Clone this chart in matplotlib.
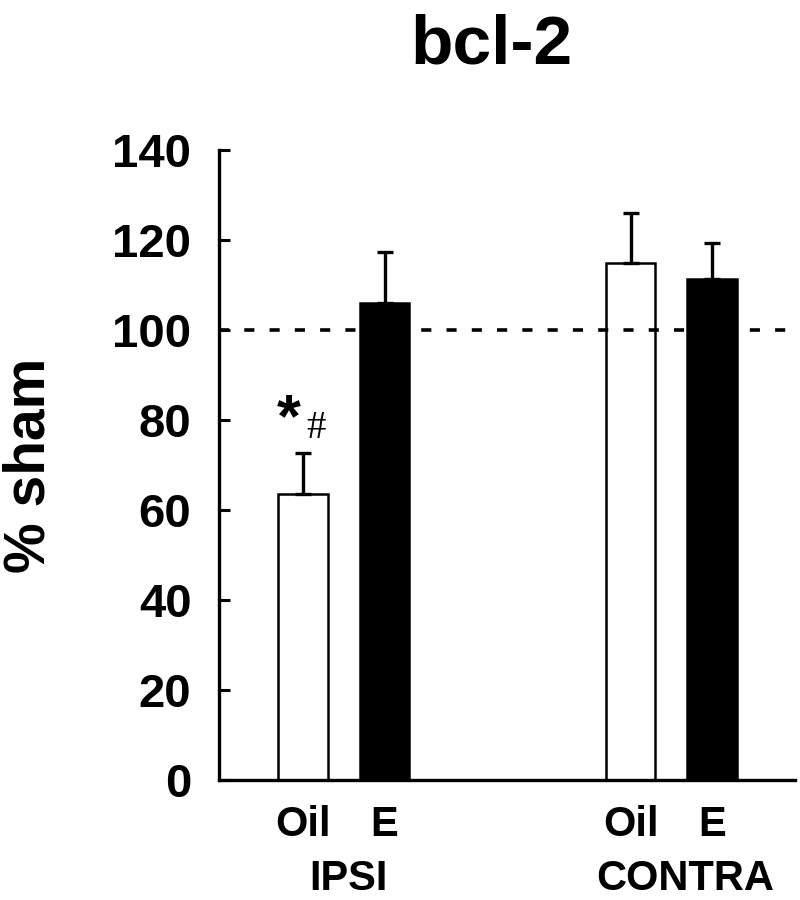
import numpy as np
import matplotlib
matplotlib.use('Agg')
import matplotlib.pyplot as plt

plt.rcParams['font.family'] = ['Liberation Sans', 'DejaVu Sans']

# datos (% sham)
groups = ['IPSI', 'CONTRA']
treatments = ['Oil', 'E']
means = {'IPSI': [63.6, 106.0], 'CONTRA': [114.9, 111.3]}
errors = {'IPSI': [9.1, 11.3], 'CONTRA': [11.1, 8.0]}
bar_colors = ['white', 'black']
y_ticks = [0, 20, 40, 60, 80, 100, 120, 140]
sham_level = 100

group_pos = [0.5, 4.52]
bar_width = 0.61

fig = plt.figure(figsize=(8, 9), dpi=100)
ax = fig.add_axes([0.274, 0.1333, 0.72, 0.7])

tick_pos = []
tick_lab = []
for g, gx in zip(groups, group_pos):
    for i, t in enumerate(treatments):
        x = gx + (i - 0.5)
        z = 1 if bar_colors[i] == 'white' else 3
        ax.bar(x, means[g][i], width=bar_width, color=bar_colors[i],
               edgecolor='black', linewidth=1.8, zorder=z)
        ax.errorbar(x, means[g][i], yerr=[[0], [errors[g][i]]], fmt='none',
                    ecolor='black', elinewidth=2.4, capsize=6, capthick=2.4, zorder=z)
        tick_pos.append(x)
        tick_lab.append(t)

# linea de referencia al 100%
ax.axhline(sham_level, color='black', linewidth=2.6, dashes=(2.8, 4.2), zorder=2)

# significancia sobre Oil IPSI
x0 = group_pos[0] - 0.5
top = means['IPSI'][0] + errors['IPSI'][0]
ax.text(x0 - 0.18, top + 0.8, '*', fontsize=44, fontweight='bold',
        ha='center', va='bottom')
ax.text(x0 + 0.16, top + 1.4, '#', fontsize=28, family='Liberation Serif',
        ha='center', va='bottom')

ax.set_xlim(-1.03, 6.04)
ax.set_ylim(0, 140)
ax.set_yticks(y_ticks)
ax.set_yticklabels([str(v) for v in y_ticks], fontsize=34, fontweight='bold')
ax.set_xticks(tick_pos)
ax.set_xticklabels(tick_lab, fontsize=30, fontweight='bold')
ax.tick_params(axis='y', direction='in', length=8, width=2.2, pad=20)
ax.tick_params(axis='x', length=0, pad=18)

for s in ['top', 'right']:
    ax.spines[s].set_visible(False)
for s in ['left', 'bottom']:
    ax.spines[s].set_linewidth(2.4)

for g, gx, dx in zip(groups, group_pos, [0.06, 0.17]):
    ax.text(gx + dx, -22, g, fontsize=30, fontweight='bold',
            ha='center', va='center')

fig.text(0.037, 0.483, '% sham', fontsize=41, fontweight='bold',
         rotation=90, ha='center', va='center')
fig.text(0.614, 0.95, 'bcl-2', fontsize=50, fontweight='bold',
         ha='center', va='center')

fig.savefig('out.png', dpi=100)
